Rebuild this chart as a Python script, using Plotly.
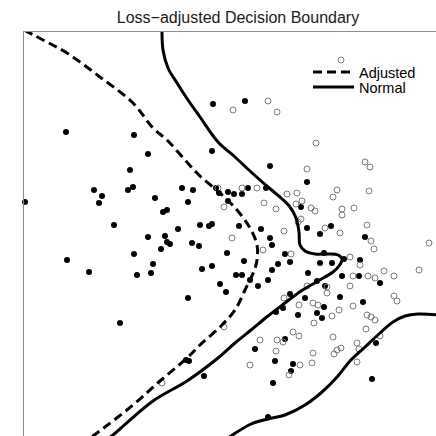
import plotly.graph_objects as go

# Feature coordinates (arbitrary units, x grows right, y grows downward)
filled_x = [213, 66, 134, 212, 148, 130, 94, 102, 99, 128, 133, 155, 182, 193, 188, 163, 167, 25,
            216, 219, 228, 234, 242, 248, 228, 178, 200, 209, 212, 239, 148, 165, 167, 170, 161, 192,
            199, 134, 153, 227, 244, 202, 212, 114, 67, 89, 137, 151, 220, 226, 188, 120, 186, 189,
            204, 245, 270, 307, 266, 301, 261, 307, 331, 320, 365, 270, 272, 285, 290, 324, 320, 332,
            344, 360, 272, 278, 308, 317, 342, 359, 236, 242, 250, 258, 268, 380, 325, 290, 305, 340,
            324, 276, 283, 298, 317, 322, 363, 376, 285, 255, 275, 293, 291, 273, 372, 268]
filled_y = [104, 132, 135, 151, 154, 170, 190, 196, 203, 190, 187, 198, 188, 190, 202, 212, 210, 202,
            188, 193, 192, 194, 194, 188, 201, 229, 225, 226, 224, 226, 237, 236, 242, 244, 249, 243,
            246, 254, 264, 253, 261, 269, 266, 225, 260, 272, 275, 273, 284, 292, 298, 323, 360, 361,
            376, 101, 166, 182, 188, 207, 229, 228, 226, 234, 237, 238, 245, 254, 262, 253, 263, 263,
            259, 260, 270, 264, 273, 281, 276, 276, 275, 275, 280, 286, 280, 283, 286, 294, 298, 297,
            307, 312, 308, 315, 313, 318, 302, 343, 339, 349, 361, 364, 371, 383, 379, 417]

open_x = [218, 242, 257, 224, 232, 162, 284, 325, 340, 367, 371, 374, 429, 263, 291, 350, 360, 353,
          368, 375, 384, 394, 419, 350, 307, 327, 327, 284, 299, 313, 318, 332, 339, 353, 314, 367,
          371, 375, 366, 394, 397, 380, 224, 260, 277, 283, 293, 299, 276, 333, 334, 337, 341, 313,
          312, 300, 289, 250, 357, 359, 357, 301, 298, 233, 268, 277, 341, 316, 307, 365, 370, 337,
          333, 369, 287, 297, 264, 276, 296, 302, 311, 315, 342, 342, 354]
open_y = [188, 188, 188, 207, 238, 383, 231, 228, 233, 225, 241, 249, 243, 250, 254, 257, 265, 276,
          276, 278, 271, 276, 270, 286, 286, 287, 293, 298, 305, 303, 305, 316, 310, 306, 323, 315,
          317, 320, 329, 296, 301, 336, 327, 340, 340, 342, 332, 336, 351, 337, 354, 350, 348, 353,
          363, 365, 375, 365, 343, 349, 362, 219, 222, 110, 101, 112, 60, 143, 169, 162, 167, 190,
          197, 191, 194, 193, 203, 209, 204, 201, 208, 211, 209, 215, 208]

adj_x = [24, 45, 67, 100, 133, 153, 167, 185, 200, 220, 237, 250, 257, 257, 254, 245, 235, 221,
         200, 187, 160, 133, 97, 90]
adj_y = [30, 41, 53, 77, 103, 128, 140, 160, 176, 193, 210, 228, 245, 260, 271, 290, 310, 326,
         345, 358, 381, 405, 433, 438]

norm1_x = [162, 163, 168, 177, 188, 200, 218, 235, 251, 268, 281, 290, 296, 299, 300, 305, 315,
           328, 338, 342, 339, 333, 318, 301, 285, 268, 251, 235, 218, 187, 153, 113, 109]
norm1_y = [30, 50, 68, 83, 100, 117, 142, 157, 172, 187, 198, 207, 218, 232, 245, 251, 254,
           254, 255, 259, 266, 272, 281, 291, 303, 316, 330, 343, 358, 381, 401, 435, 438]

norm2_x = [440, 418, 405, 393, 380, 365, 350, 338, 322, 305, 285, 268, 251, 231, 228]
norm2_y = [315, 314, 316, 322, 333, 347, 361, 376, 392, 405, 415, 419, 424, 436, 438]

FONT = "Liberation Sans, Arial, sans-serif"

fig = go.Figure()
fig.add_trace(go.Scatter(x=filled_x, y=filled_y, mode="markers", showlegend=False,
                         marker=dict(size=6, color="black", line=dict(width=0)),
                         cliponaxis=False))
fig.add_trace(go.Scatter(x=open_x, y=open_y, mode="markers", showlegend=False,
                         marker=dict(size=6, color="#7a7a7a", symbol="circle-open",
                                     line=dict(width=1, color="#7a7a7a")),
                         cliponaxis=False))
fig.add_trace(go.Scatter(x=adj_x, y=adj_y, mode="lines", name="Adjusted", legend="legend",
                         line=dict(color="black", width=3, dash="9px,5px", shape="spline")))
fig.add_trace(go.Scatter(x=norm1_x, y=norm1_y, mode="lines", name="Normal", legend="legend2",
                         line=dict(color="black", width=3, shape="spline")))
fig.add_trace(go.Scatter(x=norm2_x, y=norm2_y, mode="lines", name="Normal", showlegend=False,
                         line=dict(color="black", width=3, shape="spline")))

leg_common = dict(xanchor="left", yanchor="middle", bgcolor="rgba(0,0,0,0)", borderwidth=0,
                  font=dict(family=FONT, size=14.5, color="black"), itemwidth=41)

fig.update_layout(
    width=436, height=436,
    margin=dict(l=24, r=0, t=32, b=0),
    paper_bgcolor="white", plot_bgcolor="white",
    font=dict(family=FONT, size=13, color="black"),
    title=dict(text="Loss\u2212adjusted Decision Boundary", x=238 / 436, xref="container",
               xanchor="center", y=1 - 17 / 436, yref="container", yanchor="middle",
               font=dict(family=FONT, size=16, color="#1a1a1a")),
    legend=dict(x=(308 - 24) / 412, y=1 - 40 / 404, **leg_common),
    legend2=dict(x=(308 - 24) / 412, y=1 - 55 / 404, **leg_common),
    xaxis=dict(range=[24, 436], side="top", showline=True, linecolor="#8c8c8c", linewidth=1,
               showgrid=False, zeroline=False, showticklabels=False, ticks=""),
    yaxis=dict(range=[436, 32], showline=True, linecolor="#8c8c8c", linewidth=1,
               showgrid=False, zeroline=False, showticklabels=False, ticks=""),
)

fig.write_html("out.html", config={"displayModeBar": False},
               post_script="document.body.style.margin='0';")
